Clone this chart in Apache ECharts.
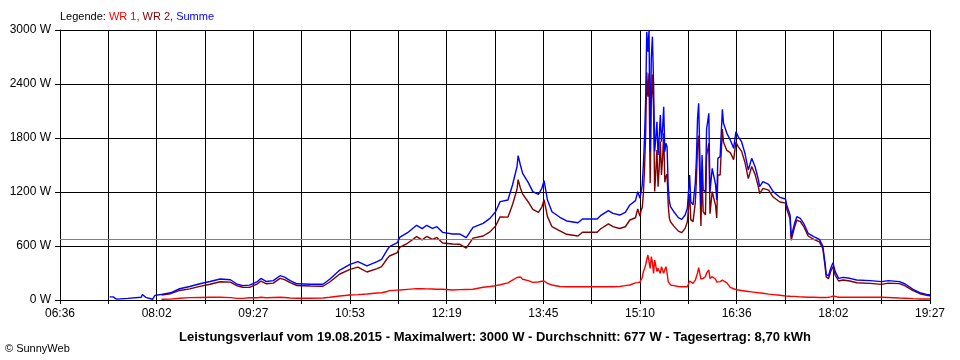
<!DOCTYPE html>
<html>
<head>
<meta charset="utf-8">
<script src="https://cdn.jsdelivr.net/npm/echarts@6/dist/echarts.min.js"></script>
<style>
html,body{margin:0;padding:0;background:#fff;}
#c{width:960px;height:360px;}
</style>
</head>
<body>
<div id="c"></div>
<script>
// ---- data ----
const tickLabels = ['06:36','08:02','09:27','10:53','12:19','13:45','15:10','16:36','18:02','19:27'];
const yTicks = [0, 600, 1200, 1800, 2400, 3000];
const average = 677;

const times = [
 '07:20','07:23','07:26','07:36','07:48','07:49','07:52','07:58','08:00','08:06',
 '08:14','08:22','08:31','08:40','08:49','08:58','09:07','09:13','09:18','09:24',
 '09:31','09:34','09:39','09:45','09:51','09:55','10:00','10:06','10:18','10:29',
 '10:35','10:44','10:53','11:00','11:08','11:17','11:21','11:26','11:28','11:35',
 '11:37','11:44','11:52','11:57','12:01','12:06','12:10','12:15','12:24','12:30',
 '12:36','12:42','12:51','12:57','13:02','13:06','13:13','13:17','13:21','13:22',
 '13:24','13:26','13:31','13:35','13:40','13:43','13:45','13:48','13:52','13:59',
 '14:05','14:15','14:19','14:26','14:32','14:35','14:42','14:46','14:52','14:57',
 '15:01','15:06','15:08','15:10','15:11','15:12','15:13','15:14','15:15','15:16',
 '15:17','15:18','15:19','15:20','15:21','15:22','15:23','15:24','15:25','15:26',
 '15:27','15:28','15:29','15:30','15:31','15:32','15:33','15:34','15:35','15:36',
 '15:37','15:40','15:44','15:47','15:50','15:52','15:54','15:55','15:57','15:59',
 '16:00','16:01','16:02','16:04','16:05','16:06','16:08','16:09','16:11','16:12',
 '16:14','16:17','16:18','16:19','16:21','16:23','16:24','16:27','16:30','16:33',
 '16:35','16:37','16:40','16:43','16:46','16:49','16:52','16:55','16:56','16:59',
 '17:04','17:08','17:14','17:19','17:20','17:23','17:24','17:27','17:29','17:32',
 '17:35','17:39','17:44','17:49','17:52','17:54','17:55','17:57','17:59','18:01',
 '18:03','18:06','18:10','18:16','18:22','18:34','18:44','18:50','19:00','19:05',
 '19:12','19:18','19:24','19:27'
];

const summe = [
 35,35,10,18,30,60,30,8,50,63,
 80,125,150,180,205,233,225,175,160,165,
 205,240,205,215,270,255,215,180,175,175,
 230,333,396,426,378,426,452,556,593,637,
 696,748,830,793,830,796,815,752,733,735,
 693,807,852,907,981,1093,1111,1278,1481,1604,
 1500,1407,1304,1204,1174,1241,1326,1111,981,919,
 878,859,900,900,900,937,993,963,944,974,
 1056,1104,1204,1130,1200,1278,1500,1796,2222,2980,
 2760,3000,1650,2685,2926,2426,1650,1800,1981,1611,
 1800,2056,1759,1900,2148,1648,1741,1700,1259,1100,
 1037,981,915,896,944,1019,1389,1093,1056,1300,
 1574,2019,2185,1056,1611,1222,1204,1900,2074,1200,
 1463,1278,1111,1574,1593,2119,1963,1852,1778,1685,
 1870,1815,1759,1630,1444,1574,1481,1333,1259,1315,
 1285,1204,1141,1122,1056,944,704,852,926,907,
 852,741,704,674,600,407,285,267,352,415,
 315,241,252,241,222,215,204,215,204,178,
 119,81,63,59
];

const wr1 = [
 null,null,null,null,null,null,null,null,null,8,
 10,19,26,28,30,30,26,18,18,25,
 25,30,25,28,30,28,22,19,19,22,
 30,44,56,60,67,78,81,95,104,110,
 111,118,126,125,124,122,120,119,111,115,
 117,119,141,150,159,170,190,220,250,267,
 255,230,215,196,200,208,211,185,167,150,
 148,148,148,148,148,148,148,148,150,160,
 167,190,193,200,204,250,315,350,389,450,
 500,480,352,481,420,296,444,380,315,352,
 330,296,370,330,296,340,370,300,204,190,
 167,160,150,148,148,148,211,200,185,220,
 241,300,359,233,250,240,259,300,333,241,
 259,230,200,185,204,220,210,190,140,125,
 115,111,105,100,95,90,85,80,78,75,
 65,60,52,45,44,42,40,40,38,35,
 33,30,30,28,28,28,28,30,35,44,
 40,30,30,30,30,30,30,28,22,20,
 15,11,11,11
];

const wr2 = [
 null,null,null,null,null,null,null,null,null,55,
 70,106,124,152,175,203,199,157,142,140,
 180,210,180,187,240,227,193,161,156,153,
 200,289,340,366,311,348,371,461,489,527,
 585,630,704,668,706,674,695,633,622,620,
 576,688,711,757,822,923,921,1058,1231,1337,
 1245,1177,1089,1008,974,1033,1115,926,814,769,
 730,711,752,752,752,789,845,815,794,814,
 889,914,1011,930,996,1028,1185,1446,1833,2530,
 2260,2520,1298,2204,2506,2130,1206,1420,1666,1259,
 1470,1760,1389,1570,1852,1308,1371,1400,1055,910,
 870,821,765,748,796,871,1178,893,871,1080,
 1333,1719,1826,823,1361,982,945,1600,1741,959,
 1204,1048,911,1389,1389,1899,1753,1662,1638,1560,
 1755,1704,1654,1530,1349,1484,1396,1253,1181,1240,
 1220,1144,1089,1077,1012,902,664,812,888,872,
 819,711,674,646,572,379,257,237,317,371,
 275,211,222,211,192,185,174,187,182,158,
 104,70,52,48
];

// ---- build ----
function toMin(s){ const p = s.split(':'); return (+p[0])*60 + (+p[1]); }
const STEP = 6; // axis unit: 10 seconds
const t0 = toMin(tickLabels[0]);
const tEnd = toMin(tickLabels[tickLabels.length-1]);
const xMax = (tEnd - t0) * STEP;
const xInterval = xMax / ((tickLabels.length - 1) * 2);
const xOf = s => (toMin(s) - t0) * STEP;
const mk = arr => times.map((t, i) => [xOf(t), arr[i]]);

const FONT = '"Liberation Sans", Arial, sans-serif';

const chart = echarts.init(document.getElementById('c'), null, {renderer: 'canvas'});
chart.setOption({
  animation: false,
  backgroundColor: '#ffffff',
  grid: {left: 60, right: 30, top: 30, bottom: 60, containLabel: false},
  xAxis: {
    type: 'value', min: 0, max: xMax, interval: xInterval,
    axisLine: {show: true, lineStyle: {color: '#000', width: 1}},
    axisTick: {show: true, length: 4, lineStyle: {color: '#000'}},
    splitLine: {show: true, lineStyle: {color: '#000', width: 1}},
    axisLabel: {
      color: '#000', fontFamily: FONT, fontSize: 12, margin: 8,
      showMinLabel: true, showMaxLabel: true, hideOverlap: false,
      formatter: v => {
        const k = Math.round(v / xInterval);
        return k % 2 === 0 ? tickLabels[k / 2] : '';
      }
    }
  },
  yAxis: {
    type: 'value', min: yTicks[0], max: yTicks[yTicks.length-1], interval: yTicks[1] - yTicks[0],
    axisLine: {show: true, lineStyle: {color: '#000', width: 1}},
    axisTick: {show: true, length: 5, lineStyle: {color: '#000'}},
    splitLine: {show: true, lineStyle: {color: '#000', width: 1}},
    axisLabel: {color: '#000', fontFamily: FONT, fontSize: 12, margin: 9, formatter: v => String(v) + ' W'}
  },
  series: [
    {name: 'WR 1', type: 'line', data: mk(wr1), showSymbol: false, connectNulls: false,
     lineStyle: {color: '#ff0000', width: 1.4}, itemStyle: {color: '#ff0000'}, z: 3},
    {name: 'WR 2', type: 'line', data: mk(wr2), showSymbol: false, connectNulls: false,
     lineStyle: {color: '#800000', width: 1.4}, itemStyle: {color: '#800000'}, z: 4},
    {name: 'Summe', type: 'line', data: mk(summe), showSymbol: false,
     lineStyle: {color: '#0000ff', width: 1.4}, itemStyle: {color: '#0000ff'}, z: 5,
     markLine: {silent: true, symbol: 'none', label: {show: false},
       lineStyle: {color: '#808080', type: 'solid', width: 1},
       data: [{yAxis: average}]}}
  ],
  graphic: [
    {type: 'text', left: 60, top: 11, style: {
      text: '{k|Legende: }{a|WR 1, }{b|WR 2, }{c|Summe}',
      font: '11px ' + FONT,
      rich: {
        k: {fill: '#000', fontSize: 11, fontFamily: FONT},
        a: {fill: '#ff0000', fontSize: 11, fontFamily: FONT},
        b: {fill: '#800000', fontSize: 11, fontFamily: FONT},
        c: {fill: '#0000ff', fontSize: 11, fontFamily: FONT}
      }
    }},
    {type: 'text', x: 495, y: 337, style: {
      text: 'Leistungsverlauf vom 19.08.2015 - Maximalwert: 3000 W - Durchschnitt: 677 W - Tagesertrag: 8,70 kWh',
      font: 'bold 13px ' + FONT, fill: '#000', align: 'center', verticalAlign: 'middle'
    }},
    {type: 'text', x: 5, y: 349, style: {
      text: '© SunnyWeb', font: '11px ' + FONT, fill: '#000', align: 'left', verticalAlign: 'middle'
    }}
  ]
});
</script>
</body>
</html>
